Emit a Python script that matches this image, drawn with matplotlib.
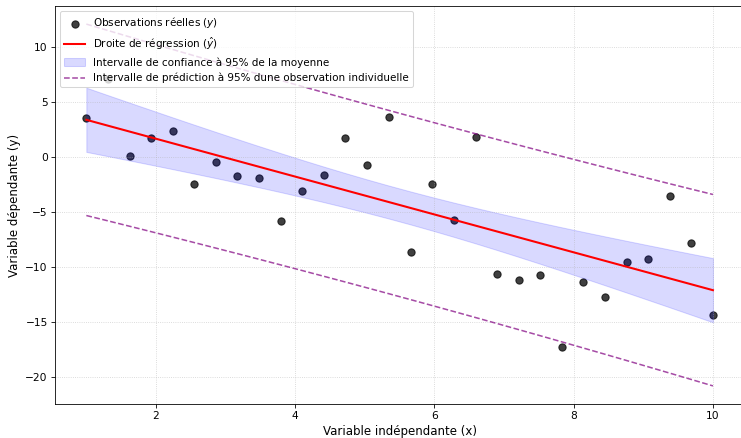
import numpy as np
import matplotlib
matplotlib.use("Agg")
import matplotlib.pyplot as plt

# observations
x_obs = [1.00, 1.31, 1.62, 1.93, 2.24, 2.55, 2.86, 3.17, 3.48, 3.79,
         4.10, 4.41, 4.72, 5.03, 5.34, 5.66, 5.97, 6.28, 6.59, 6.90,
         7.21, 7.52, 7.83, 8.14, 8.45, 8.76, 9.07, 9.38, 9.69, 10.00]
y_obs = [3.55, 7.10, 0.06, 1.70, 2.40, -2.48, -0.42, -1.75, -1.87, -5.78,
         -3.05, -1.66, 1.70, -0.72, 3.61, -8.59, -2.48, -5.69, 1.85, -10.59,
         -11.20, -10.68, -17.25, -11.35, -12.71, -9.53, -9.26, -3.57, -7.77, -14.31]

T_CRIT = 2.048  # t(0.975, 28)


def fit_bands(x, y, x_grid):
	x = np.asarray(x)
	y = np.asarray(y)
	n = len(x)
	slope, intercept = np.polyfit(x, y, 1)
	resid = y - (slope * x + intercept)
	s = np.sqrt(np.sum(resid ** 2) / (n - 2))
	sxx = np.sum((x - x.mean()) ** 2)
	y_hat = slope * x_grid + intercept
	h = 1.0 / n + (x_grid - x.mean()) ** 2 / sxx
	ci = T_CRIT * s * np.sqrt(h)
	pi = T_CRIT * s * np.sqrt(1 + h)
	return y_hat, ci, pi


def main():
	x_grid = np.array(x_obs)
	y_hat, ci, pi = fit_bands(x_obs, y_obs, x_grid)

	fig = plt.figure(figsize=(10, 438 / 74.1), dpi=74.1)
	ax = fig.add_axes([55 / 741, 1 - 404 / 438, (744.3 - 55) / 741, (404 - 6) / 438])

	ax.scatter(x_obs, y_obs, color="black", alpha=0.75, s=50, label="Observations réelles ($y$)")
	ax.plot(x_grid, y_hat, color="red", linewidth=2, label="Droite de régression ($\\hat{y}$)")
	ax.fill_between(x_grid, y_hat - ci, y_hat + ci, color="blue", alpha=0.15,
					label="Intervalle de confiance à 95% de la moyenne")
	ax.plot(x_grid, y_hat + pi, color="purple", linestyle="--", alpha=0.7,
			label="Intervalle de prédiction à 95% dune observation individuelle")
	ax.plot(x_grid, y_hat - pi, color="purple", linestyle="--", alpha=0.7)

	ax.set_xlabel("Variable indépendante (x)", fontsize=11.4)
	ax.set_ylabel("Variable dépendante (y)", fontsize=11.4)
	ax.tick_params(labelsize=10.3)
	ax.grid(True, linestyle=":", alpha=0.6)
	ax.legend(loc="upper left", fontsize=10.1)

	fig.savefig("out.png", dpi=74.1)


if __name__ == "__main__":
	main()
